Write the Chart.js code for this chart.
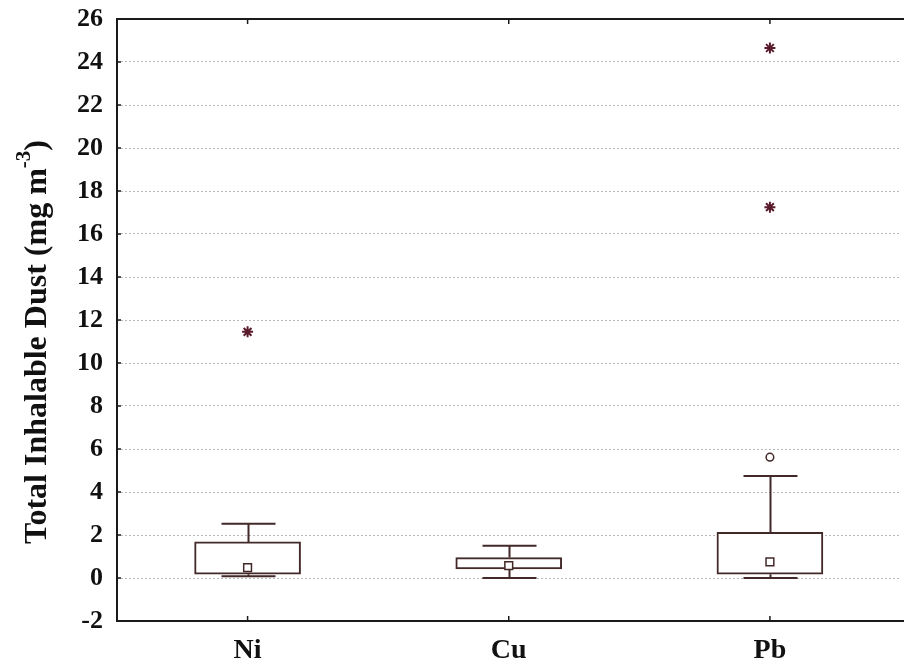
<!DOCTYPE html>
<html>
<head>
<meta charset="utf-8">
<script src="https://cdn.jsdelivr.net/npm/chart.js@4.4.1/dist/chart.umd.min.js"></script>
<style>
  html, body { margin: 0; padding: 0; background: #fff; overflow: hidden; }
  #wrap { width: 908px; height: 671px; }
</style>
</head>
<body>
<div id="wrap"><canvas id="boxChart" width="908" height="671"></canvas></div>
<script>
// box plot values (median square, 25-75% box, non-outlier range)
const categories = ['Ni', 'Cu', 'Pb'];
const whiskerMin = [0.08, 0.0, 0.0];
const quartile1 = [0.18, 0.42, 0.18];
const medians = [0.48, 0.58, 0.75];
const quartile3 = [1.68, 0.95, 2.12];
const whiskerMax = [2.52, 1.5, 4.75];
const outlierCats = ['Pb'];
const outlierValues = [5.62];
const extremeCats = ['Ni', 'Pb', 'Pb'];
const extremeValues = [11.45, 17.25, 24.65];
const yTicks = [-2, 0, 2, 4, 6, 8, 10, 12, 14, 16, 18, 20, 22, 24, 26];

const lineColor = '#432828';
const starColor = '#5a1b2c';

// whiskers, frame, inner tick marks and the axis title
const boxPlotPlugin = {
  id: 'boxWhiskers',
  beforeDatasetsDraw(chart) {
    const { ctx, scales: { x, y } } = chart;
    ctx.save();
    ctx.strokeStyle = lineColor;
    ctx.lineWidth = 2;
    categories.forEach((c, i) => {
      const cx = Math.round(x.getPixelForValue(i)) + 0.5;
      const capHalf = 27;
      ctx.beginPath();
      ctx.moveTo(cx, y.getPixelForValue(quartile3[i]));
      ctx.lineTo(cx, y.getPixelForValue(whiskerMax[i]));
      ctx.moveTo(cx, y.getPixelForValue(quartile1[i]));
      ctx.lineTo(cx, y.getPixelForValue(whiskerMin[i]));
      ctx.moveTo(cx - capHalf, y.getPixelForValue(whiskerMax[i]));
      ctx.lineTo(cx + capHalf, y.getPixelForValue(whiskerMax[i]));
      ctx.moveTo(cx - capHalf, y.getPixelForValue(whiskerMin[i]));
      ctx.lineTo(cx + capHalf, y.getPixelForValue(whiskerMin[i]));
      ctx.stroke();
    });
    ctx.restore();
  },
  afterDraw(chart) {
    const { ctx, chartArea: a, scales: { x, y } } = chart;
    ctx.save();
    ctx.strokeStyle = '#1a1a1a';
    ctx.lineWidth = 2;
    ctx.beginPath();
    ctx.moveTo(a.right + 5, a.top);
    ctx.lineTo(a.left, a.top);
    ctx.lineTo(a.left, a.bottom);
    ctx.lineTo(a.right + 5, a.bottom);
    ctx.stroke();
    // small inward ticks
    ctx.lineWidth = 1.5;
    ctx.beginPath();
    yTicks.forEach(v => {
      const py = y.getPixelForValue(v);
      ctx.moveTo(a.left, py);
      ctx.lineTo(a.left + 4, py);
    });
    categories.forEach((c, i) => {
      const px = x.getPixelForValue(i);
      ctx.moveTo(px, a.bottom);
      ctx.lineTo(px, a.bottom - 5);
      ctx.moveTo(px, a.top);
      ctx.lineTo(px, a.top + 5);
    });
    ctx.stroke();

    // rotated y title with superscript
    ctx.translate(38, 342);
    ctx.rotate(-Math.PI / 2);
    ctx.fillStyle = '#111';
    ctx.textBaseline = 'middle';
    const main = 'Total Inhalable Dust (mg m';
    const sup = '-3';
    const tail = ')';
    const big = 'bold 32px "Liberation Serif"';
    const small = 'bold 21px "Liberation Serif"';
    ctx.font = big;
    const wMain = ctx.measureText(main).width;
    const wTail = ctx.measureText(tail).width;
    ctx.font = small;
    const wSup = ctx.measureText(sup).width;
    let tx = -(wMain + wSup + wTail) / 2;
    ctx.font = big;
    ctx.fillText(main, tx, 0);
    tx += wMain;
    ctx.font = small;
    ctx.fillText(sup, tx, -13);
    tx += wSup;
    ctx.font = big;
    ctx.fillText(tail, tx, 0);
    ctx.restore();
  }
};

const ctx = document.getElementById('boxChart').getContext('2d');
new Chart(ctx, {
  type: 'bar',
  data: {
    labels: categories,
    datasets: [
      {
        type: 'line',
        label: 'Extremes',
        data: extremeCats.map((c, i) => ({ x: c, y: extremeValues[i] })),
        showLine: false,
        pointStyle: 'star',
        pointRadius: 5.5,
        pointBorderWidth: 2,
        pointBorderColor: starColor,
        pointBackgroundColor: starColor,
        order: 0
      },
      {
        type: 'line',
        label: 'Outliers',
        data: outlierCats.map((c, i) => ({ x: c, y: outlierValues[i] })),
        showLine: false,
        pointStyle: 'circle',
        pointRadius: 3.8,
        pointBorderWidth: 1.5,
        pointBorderColor: lineColor,
        pointBackgroundColor: '#fff',
        order: 0
      },
      {
        type: 'line',
        label: 'Median',
        data: medians,
        showLine: false,
        pointStyle: 'rect',
        pointRadius: 5.5,
        pointBorderWidth: 1.5,
        pointBorderColor: lineColor,
        pointBackgroundColor: '#fff',
        order: 0
      },
      {
        label: '25%-75%',
        data: quartile1.map((v, i) => [v, quartile3[i]]),
        backgroundColor: '#fff',
        borderColor: lineColor,
        borderWidth: 2,
        borderSkipped: false,
        barThickness: 106,
        order: 1
      }
    ]
  },
  options: {
    responsive: false,
    animation: false,
    layout: { padding: { top: 19, right: 0, bottom: 0, left: 0 } },
    plugins: {
      legend: { display: false },
      tooltip: { enabled: false }
    },
    scales: {
      x: {
        offset: true,
        grid: { display: false, drawTicks: false },
        border: { display: false },
        ticks: { color: '#111', font: { family: 'Liberation Serif', size: 28, weight: 'bold' }, padding: 13 },
        afterFit: s => { s.height = 50; s.paddingLeft = 0; s.paddingRight = 0; }
      },
      y: {
        min: -2,
        max: 26,
        afterBuildTicks: s => { s.ticks = yTicks.map(v => ({ value: v })); },
        grid: {
          drawTicks: false,
          lineWidth: 1,
          color: c => (c.tick && (c.tick.value === -2 || c.tick.value === 26)) ? 'rgba(0,0,0,0)' : '#b8b8b8'
        },
        border: { display: false, dash: [2, 2] },
        ticks: { color: '#111', font: { family: 'Liberation Serif', size: 26, weight: 'bold' }, padding: 14 },
        afterFit: s => { s.width = 117; s.paddingTop = 0; s.paddingBottom = 0; }
      }
    }
  },
  plugins: [boxPlotPlugin]
});
</script>
</body>
</html>
